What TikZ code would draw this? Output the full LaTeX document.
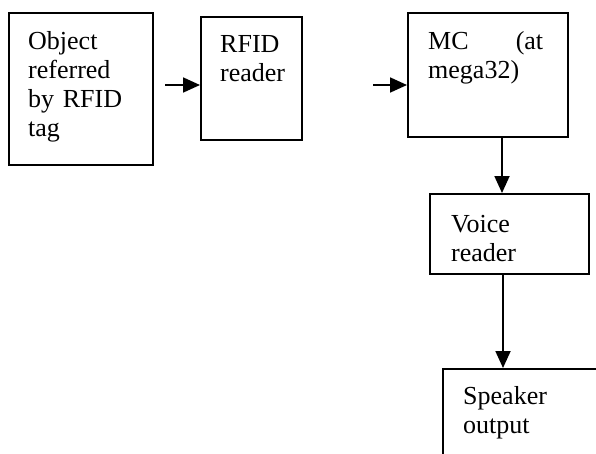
\documentclass[tikz,border=0pt]{standalone}
\usepackage{fontspec}
\setmainfont{Liberation Serif}
\usetikzlibrary{arrows.meta}
\begin{document}
\begin{tikzpicture}[x=1pt, y=-1pt,
  block/.style={draw, line width=1.8pt, inner sep=0pt, anchor=north west},
  blocktext/.style={inner sep=0pt, anchor=base west, align=left,
    text width=120pt, font=\fontsize{26}{29}\selectfont},
  arr/.style={line width=1.8pt, -{Triangle[length=17pt,width=15pt]}}]
\useasboundingbox (0,0) rectangle (596,453);
\clip (0,0) rectangle (596,453);
\node[block, minimum width=144pt, minimum height=152pt] (obj) at (8,12) {};
\node[block, minimum width=101pt, minimum height=123pt] (rfid) at (200,16) {};
\node[block, minimum width=160pt, minimum height=124pt] (mc) at (407,12) {};
\node[block, minimum width=159pt, minimum height=80pt] (voice) at (429,193) {};
\node[block, minimum width=170pt, minimum height=120pt] (speaker) at (442,368) {};
\node[blocktext] (objtext) at (28,49) {Object\\referred\\by RFID\\tag};
\node[blocktext] (rfidtext) at (220,52) {RFID\\reader};
\node[blocktext, text width=115pt, align=justify] (mctext) at (428,49) {MC (at\linebreak mega32)};
\node[blocktext] (voicetext) at (451,232) {Voice\\reader};
\node[blocktext] (speakertext) at (463,404) {Speaker\\output};
\coordinate (a1) at (165,85);
\coordinate (a2) at (373,85);
\coordinate (a3) at (502,0);
\coordinate (a4) at (503,0);
\draw[arr] (a1) -- (a1 -| rfid.west);
\draw[arr] (a2) -- (a2 -| mc.west);
\draw[arr] (a3 |- mc.south) -- (a3 |- voice.north);
\draw[arr] (a4 |- voice.south) -- (a4 |- speaker.north);
\end{tikzpicture}
\end{document}
